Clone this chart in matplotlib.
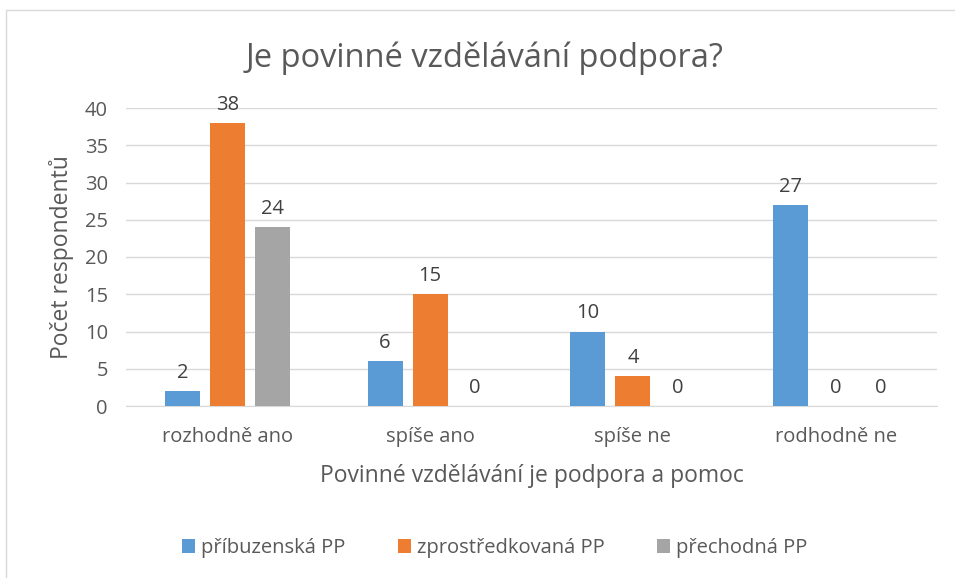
import numpy as np
import matplotlib.pyplot as plt
from matplotlib.patches import Rectangle

plt.rcParams['font.family'] = ['Open Sans', 'DejaVu Sans']

categories = ['rozhodně ano', 'spíše ano', 'spíše ne', 'rodhodně ne']
series_names = ['příbuzenská PP', 'zprostředkovaná PP', 'přechodná PP']
pribuzenska = [2, 6, 10, 27]
zprostredkovana = [38, 15, 4, 0]
prechodna = [24, 0, 0, 0]
colors = ['#5B9BD5', '#ED7D31', '#A5A5A5']
text_color = '#595959'

fig = plt.figure(figsize=(9.55, 5.78), dpi=100)
# outer chart border (cropped at right/bottom in the original)
fig.patches.append(Rectangle((6 / 955, -0.01), 1.1, 1 - 10 / 578 + 0.01,
                             transform=fig.transFigure, fill=False,
                             edgecolor='#D9D9D9', linewidth=1))

ax = fig.add_axes([126 / 955, 1 - 406 / 578, (937 - 126) / 955, (406 - 108) / 578])

x = np.arange(len(categories))
width = 0.172
offset = 0.222
all_values = [pribuzenska, zprostredkovana, prechodna]
for i, vals in enumerate(all_values):
    bars = ax.bar(x + (i - 1) * offset, vals, width, color=colors[i], label=series_names[i], zorder=3)
    for b, v in zip(bars, vals):
        ax.text(b.get_x() + b.get_width() / 2, v + 1.1, str(v), ha='center', va='bottom',
                fontsize=14.5, color='#404040', clip_on=False)

ax.set_xlim(-0.5, len(categories) - 0.5)
ax.set_ylim(0, 40)
ax.set_yticks(range(0, 41, 5))
ax.set_xticks(x)
ax.set_xticklabels(categories)
ax.grid(axis='y', color='#D9D9D9', linewidth=1, zorder=0)
for s in ['top', 'right', 'left']:
    ax.spines[s].set_visible(False)
ax.spines['bottom'].set_color('#D9D9D9')
ax.tick_params(axis='both', length=0, labelsize=14.5, colors=text_color)
ax.tick_params(axis='x', pad=15)
ax.tick_params(axis='y', pad=13)

ax.set_xlabel('Povinné vzdělávání je podpora a pomoc', fontsize=16.5, color=text_color, labelpad=12)
ax.set_ylabel('Počet respondentů', fontsize=16.5, color=text_color, labelpad=8)
fig.text(0.507, 1 - 58 / 578, 'Je povinné vzdělávání podpora?', ha='center', va='center',
         fontsize=23.5, color=text_color)

fig.legend(loc='center', bbox_to_anchor=(0.518, 1 - 548 / 578), ncol=3, frameon=False,
           fontsize=14.5, handlelength=0.65, handleheight=0.65, handletextpad=0.3,
           columnspacing=2.6, labelcolor=text_color)

fig.savefig('out.png', dpi=100, facecolor='white')
